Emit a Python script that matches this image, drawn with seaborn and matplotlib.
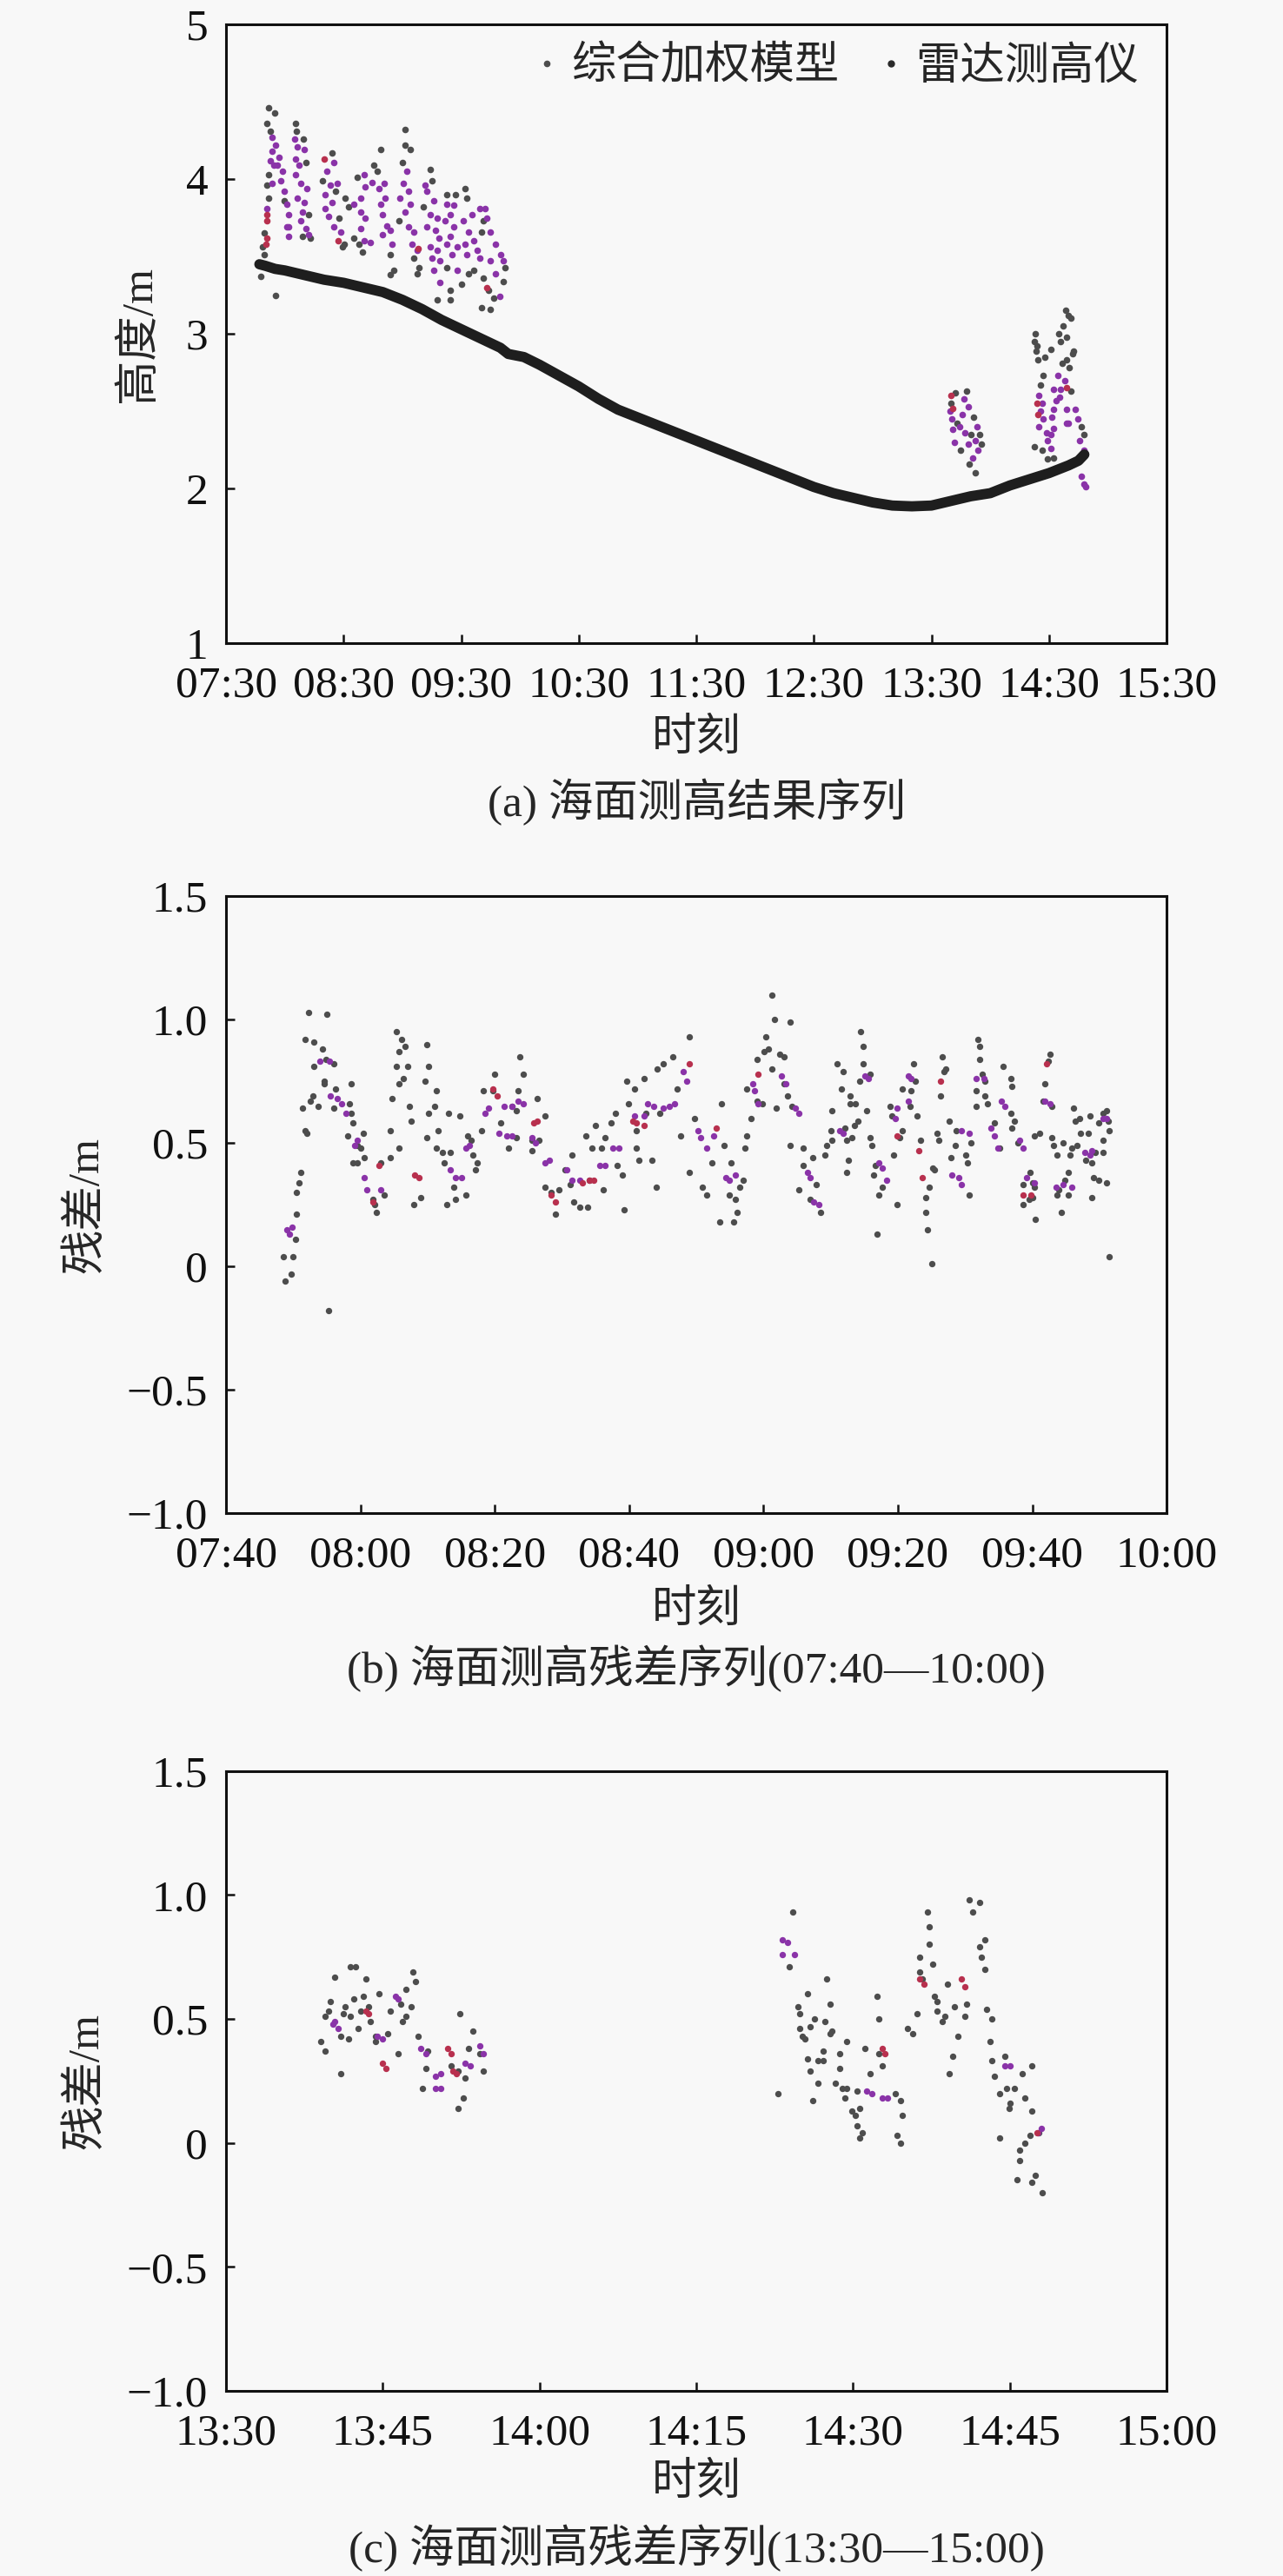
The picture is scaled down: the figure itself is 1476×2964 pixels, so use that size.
import matplotlib
matplotlib.use('Agg')
import matplotlib.pyplot as plt
from matplotlib.lines import Line2D
import pandas as pd
import seaborn as sns

# times are minutes after midnight, values in metres

# (a) radar altimeter tide curve
radar = [(467, 3.45), (470, 3.44), (475, 3.42), (480, 3.41), (490, 3.38), (500, 3.35), (510, 3.33),
         (520, 3.30), (530, 3.27), (540, 3.22), (550, 3.16), (560, 3.09), (570, 3.03), (580, 2.97),
         (590, 2.91), (594, 2.87), (598, 2.86), (602, 2.85), (610, 2.80), (620, 2.73), (630, 2.66),
         (640, 2.58), (650, 2.51), (660, 2.46), (670, 2.41), (680, 2.36), (690, 2.31), (700, 2.26),
         (710, 2.21), (720, 2.16), (730, 2.11), (740, 2.06), (750, 2.01), (760, 1.97), (770, 1.94),
         (780, 1.91), (790, 1.89), (800, 1.885), (810, 1.89), (820, 1.92), (830, 1.95), (840, 1.97),
         (850, 2.02), (860, 2.06), (870, 2.10), (880, 2.15), (885, 2.18), (888, 2.22)]

# (a) weighted model heights
a_gray = [(471.9, 4.46), (474.8, 4.43), (471.0, 4.36), (472.7, 4.31), (471.9, 4.03), (471.0, 3.96),
          (471.9, 3.88), (469.3, 3.65), (468.5, 3.56), (469.3, 3.51), (468.5, 3.45), (467.6, 3.37),
          (475.3, 3.25), (479.5, 3.86), (485.5, 4.36), (486.0, 4.31), (489.4, 4.26), (490.6, 4.11),
          (492.2, 3.77), (493.1, 3.62), (488.9, 3.63), (504.1, 4.17), (499.0, 3.99), (505.8, 3.92),
          (507.5, 3.75), (510.1, 3.58), (509.2, 3.56), (512.6, 3.82), (510.9, 3.88), (516.9, 4.01),
          (525.4, 4.09), (528.8, 4.19), (527.1, 4.05), (515.2, 3.62), (517.7, 3.58), (519.4, 3.53),
          (533.9, 3.51), (535.5, 3.41), (533.9, 3.38), (541.5, 4.32), (541.5, 4.22), (544.0, 4.19),
          (539.8, 4.11), (538.1, 3.73), (545.7, 3.49), (548.3, 3.43), (547.4, 3.39), (554.2, 4.06),
          (555.1, 3.99), (550.8, 3.82), (557.6, 3.22), (564.4, 3.22), (562.7, 3.90), (567.0, 3.90),
          (562.7, 3.43), (570.4, 3.32), (564.4, 3.28), (572.0, 3.94), (572.9, 3.88), (581.4, 3.73),
          (576.3, 3.41), (573.7, 3.39), (581.4, 3.36), (584.0, 3.28), (586.5, 3.23), (580.5, 3.17),
          (584.8, 3.16), (591.6, 3.34), (592.4, 3.43), (580.5, 3.66),
          (820.0, 2.55), (822.0, 2.62), (823.0, 2.42), (827.9, 2.63), (831.6, 2.46), (834.5, 2.35),
          (835.3, 2.29), (829.4, 2.16), (832.3, 2.10), (824.9, 2.25), (830.1, 2.35),
          (863.4, 2.89), (864.1, 2.83), (862.5, 2.95), (863.0, 3.00), (864.0, 2.92), (867.1, 2.73),
          (865.6, 2.67), (862.6, 2.27), (866.3, 2.25), (869.3, 2.19), (872.3, 2.20), (878.5, 3.15),
          (880.0, 3.12), (877.0, 3.05), (875.0, 3.00), (881.0, 3.10), (879.0, 2.98), (876.0, 2.95),
          (871.0, 2.90), (868.0, 2.85), (881.9, 2.87), (882.6, 2.89), (878.9, 2.83), (876.7, 2.81),
          (880.4, 2.78), (881.1, 2.63), (886.3, 2.40), (887.8, 2.35)]
a_purple = [(473.6, 4.18), (472.7, 4.12), (474.4, 4.09), (473.6, 3.97), (470.7, 3.81), (473.6, 4.27),
            (475.3, 4.22), (477.0, 4.14), (476.1, 4.09), (478.7, 4.05), (477.8, 3.99), (479.5, 3.92),
            (481.2, 3.84), (482.1, 3.77), (481.2, 3.69), (482.1, 3.63), (485.0, 4.26), (486.3, 4.21),
            (489.7, 4.19), (485.5, 4.13), (487.2, 4.09), (485.5, 4.03), (488.0, 3.97), (491.4, 3.94),
            (486.3, 3.88), (489.7, 3.85), (488.9, 3.79), (488.0, 3.73), (490.6, 3.68), (492.2, 3.64),
            (482.1, 3.69), (505.0, 4.11), (501.6, 4.05), (503.3, 3.96), (500.7, 3.90), (504.1, 3.85),
            (500.7, 3.81), (502.4, 3.76), (505.0, 3.69), (508.4, 3.66), (506.7, 3.97), (520.3, 4.03),
            (524.5, 3.98), (521.1, 3.95), (518.6, 3.88), (515.2, 3.84), (518.6, 3.79), (521.1, 3.75),
            (518.6, 3.68), (520.3, 3.60), (523.7, 3.59), (527.9, 3.94), (530.5, 3.97), (531.3, 3.88),
            (528.8, 3.84), (529.6, 3.77), (532.2, 3.70), (533.9, 3.67), (529.6, 3.64), (534.7, 3.58),
            (542.3, 4.05), (540.6, 3.97), (543.2, 3.92), (538.9, 3.88), (544.0, 3.84), (541.5, 3.79),
            (543.2, 3.69), (545.7, 3.66), (544.9, 3.58), (547.4, 3.54), (551.7, 3.96), (552.5, 3.92),
            (556.0, 3.86), (554.2, 3.77), (557.6, 3.75), (552.5, 3.69), (556.8, 3.67), (558.5, 3.62),
            (554.2, 3.56), (557.6, 3.54), (555.1, 3.49), (559.3, 3.47), (556.0, 3.41), (559.3, 3.33),
            (562.7, 3.84), (566.1, 3.83), (564.4, 3.77), (561.9, 3.73), (566.1, 3.69), (564.4, 3.63),
            (562.7, 3.58), (567.8, 3.56), (565.3, 3.51), (567.8, 3.41), (571.2, 3.73), (575.4, 3.77),
            (573.7, 3.66), (576.3, 3.60), (572.0, 3.58), (578.0, 3.54), (572.9, 3.51), (579.7, 3.49),
            (579.7, 3.81), (582.2, 3.81), (583.1, 3.75), (584.8, 3.66), (587.3, 3.58), (590.1, 3.51),
            (591.6, 3.47), (584.8, 3.47), (587.3, 3.39), (589.9, 3.24),
            (820.5, 2.45), (821.0, 2.38), (821.5, 2.30), (819.5, 2.50), (828.6, 2.53), (825.7, 2.48),
            (824.2, 2.40), (827.1, 2.36), (833.1, 2.40), (832.3, 2.31), (833.8, 2.25), (830.8, 2.20),
            (828.6, 2.29), (826.4, 2.58),
            (864.9, 2.60), (866.3, 2.55), (865.6, 2.50), (867.1, 2.45), (864.9, 2.40), (869.3, 2.31),
            (870.8, 2.35), (872.3, 2.39), (871.5, 2.46), (868.6, 2.36), (870.8, 2.26), (872.3, 2.51),
            (873.7, 2.57), (875.2, 2.59), (876.0, 2.64), (872.3, 2.64), (874.5, 2.73), (878.2, 2.70),
            (878.9, 2.51), (879.7, 2.42), (883.4, 2.51), (884.8, 2.45), (885.6, 2.31), (887.8, 2.25),
            (886.3, 2.08), (887.8, 2.03), (888.5, 2.01), (878.9, 2.42)]
a_red = [(471.0, 3.77), (470.7, 3.73), (470.7, 3.62), (470.2, 3.58), (499.9, 4.13), (507.0, 3.60),
         (548.0, 3.55), (583.0, 3.30), (820.0, 2.60), (821.0, 2.52), (864.0, 2.55), (864.5, 2.48),
         (879.0, 2.65)]

# (b) residuals 07:40-10:00
b_gray = [(468.8, -0.06), (468.5, 0.04), (470.0, 0.04), (469.7, -0.03), (470.3, 0.11), (470.5, 0.21),
          (470.5, 0.30), (470.8, 0.34), (471.1, 0.38), (471.7, 0.55), (472.0, 0.54), (471.4, 0.64),
          (471.7, 0.92), (472.3, 1.03), (473.1, 0.91), (472.9, 0.69), (472.6, 0.67), (473.7, 0.65),
          (475.0, 1.02), (475.2, -0.18), (473.1, 0.81), (474.3, 0.88), (474.9, 0.84), (476.0, 0.82),
          (474.6, 0.75), (474.6, 0.74), (476.3, 0.72), (476.0, 0.64), (478.6, 0.74), (478.3, 0.66),
          (478.6, 0.62), (478.1, 0.53), (478.9, 0.58), (479.5, 0.49), (480.4, 0.54), (480.1, 0.48),
          (478.9, 0.42), (479.5, 0.42), (480.6, 0.44), (481.8, 0.27), (482.1, 0.25), (482.4, 0.22),
          (483.5, 0.29), (483.0, 0.42), (484.4, 0.44), (484.4, 0.55), (485.8, 0.48), (484.7, 0.68),
          (485.3, 0.81), (485.3, 0.95), (486.1, 0.92), (486.7, 0.89), (485.8, 0.87), (487.0, 0.81),
          (486.4, 0.76), (485.8, 0.74), (487.3, 0.65), (487.6, 0.59), (487.9, 0.25), (489.0, 0.28),
          (489.9, 0.90), (490.2, 0.81), (489.6, 0.75), (490.2, 0.62), (489.9, 0.52), (491.0, 0.65),
          (491.3, 0.71), (491.6, 0.55), (492.2, 0.46), (491.3, 0.48), (492.5, 0.42), (493.1, 0.62),
          (493.4, 0.46), (493.9, 0.32), (492.8, 0.25), (494.2, 0.27), (494.8, 0.61), (495.7, 0.29),
          (496.0, 0.53), (496.5, 0.51), (496.8, 0.45), (497.1, 0.39), (497.4, 0.42), (498.0, 0.55),
          (498.3, 0.71), (499.7, 0.71), (500.0, 0.78), (500.9, 0.58), (502.0, 0.48), (503.2, 0.52),
          (502.6, 0.65), (503.2, 0.63), (503.7, 0.85), (504.3, 0.78), (503.5, 0.71), (506.3, 0.68),
          (505.5, 0.51), (506.6, 0.51), (507.5, 0.61), (505.5, 0.47), (507.5, 0.32), (509.0, 0.21),
          (508.4, 0.30), (509.5, 0.31), (510.4, 0.39), (511.2, 0.33), (511.5, 0.45), (511.8, 0.26),
          (512.7, 0.24), (513.8, 0.24), (513.6, 0.53), (514.1, 0.35), (515.0, 0.57), (514.4, 0.48),
          (515.9, 0.48), (516.4, 0.52), (516.2, 0.31), (517.3, 0.58), (517.9, 0.62), (518.2, 0.41),
          (519.0, 0.37), (519.3, 0.23), (519.6, 0.75), (519.9, 0.66), (520.8, 0.72), (521.1, 0.55),
          (521.1, 0.48), (521.4, 0.43), (522.2, 0.76), (522.5, 0.62), (523.4, 0.43), (524.0, 0.32),
          (524.2, 0.80), (525.1, 0.82), (524.5, 0.62), (526.5, 0.85), (527.1, 0.72), (527.7, 0.53),
          (528.9, 0.93), (528.9, 0.38), (529.7, 0.60), (530.9, 0.32), (531.5, 0.29), (532.3, 0.42),
          (533.5, 0.18), (533.8, 0.66), (534.1, 0.49), (534.9, 0.29), (535.2, 0.42), (535.5, 0.18),
          (535.8, 0.27), (536.4, 0.32), (536.1, 0.22), (537.0, 0.35), (537.2, 0.48), (537.5, 0.53),
          (537.5, 0.72), (538.1, 0.60), (539.0, 0.84), (539.0, 0.67), (539.8, 0.66), (540.4, 0.93),
          (540.1, 0.87), (540.7, 0.88), (541.3, 1.10), (541.6, 1.00), (541.3, 0.80), (541.9, 0.64),
          (542.4, 0.86), (543.0, 0.85), (543.0, 0.74), (543.9, 0.99), (543.6, 0.69), (544.2, 0.65),
          (543.9, 0.49), (545.9, 0.48), (545.9, 0.41), (547.3, 0.44), (547.0, 0.27), (547.9, 0.33),
          (548.5, 0.22), (545.3, 0.31),
          (550.2, 0.63), (550.0, 0.55), (549.4, 0.49), (551.0, 0.82), (551.8, 0.79), (551.6, 0.72),
          (552.9, 0.69), (552.9, 0.66), (553.7, 0.66), (552.1, 0.56), (553.5, 0.57), (553.2, 0.52),
          (552.4, 0.51), (550.2, 0.51), (549.2, 0.45), (552.6, 0.43), (552.4, 0.38), (554.0, 0.59),
          (554.5, 0.95), (554.8, 0.89), (554.8, 0.82), (554.3, 0.75), (555.9, 0.78), (555.3, 0.63),
          (555.9, 0.52), (556.1, 0.49), (556.7, 0.41), (556.4, 0.37), (557.7, 0.32), (557.2, 0.29),
          (556.9, 0.13), (558.8, 0.65), (559.1, 0.61), (559.3, 0.45), (559.9, 0.25), (560.2, 0.52),
          (560.7, 0.72), (560.7, 0.55), (561.8, 0.65), (562.0, 0.71), (562.3, 0.82), (562.6, 0.75),
          (562.8, 0.61), (563.4, 0.51), (564.2, 0.28), (564.2, 0.22), (564.4, 0.15), (565.0, 0.01),
          (564.7, 0.32), (565.2, 0.40), (565.5, 0.39), (565.8, 0.54), (566.3, 0.69), (566.9, 0.79),
          (567.1, 0.80), (566.6, 0.85), (566.1, 0.51), (567.7, 0.59), (567.9, 0.44), (568.5, 0.49),
          (568.7, 0.55), (570.1, 0.45), (570.3, 0.42), (570.6, 0.29), (570.9, 0.50), (571.7, 0.65),
          (572.5, 0.78), (573.0, 0.75), (573.0, 0.69), (571.9, 0.92), (572.2, 0.89), (572.2, 0.84),
          (571.7, 0.71), (573.3, 0.66), (574.4, 0.58), (575.2, 0.48), (575.7, 0.81), (576.8, 0.76),
          (577.0, 0.73), (576.8, 0.62), (577.3, 0.59), (577.0, 0.56), (577.8, 0.50), (579.7, 0.38),
          (580.0, 0.34), (578.7, 0.33), (580.0, 0.28), (580.3, 0.32), (579.5, 0.27), (578.7, 0.25),
          (580.5, 0.19), (580.3, 0.53), (581.1, 0.54), (581.6, 0.67), (582.9, 0.65), (581.9, 0.74),
          (582.4, 0.83), (582.7, 0.86), (582.9, 0.52), (583.2, 0.49), (583.7, 0.45), (584.0, 0.31),
          (583.7, 0.29), (584.3, 0.22), (584.8, 0.35), (585.4, 0.38), (585.4, 0.29), (585.6, 0.45),
          (584.6, 0.50), (585.9, 0.48), (586.2, 0.64), (586.4, 0.59), (587.0, 0.60), (587.2, 0.54),
          (586.7, 0.49), (588.3, 0.54), (588.0, 0.43), (588.6, 0.61), (588.8, 0.42), (589.4, 0.46),
          (589.1, 0.36), (589.9, 0.35), (588.8, 0.28), (590.5, 0.46), (590.5, 0.51), (589.9, 0.58),
          (590.5, 0.62), (591.0, 0.63), (591.3, 0.59), (591.5, 0.55), (591.0, 0.34), (591.5, 0.04)]
b_purple = [(469.1, 0.15), (469.4, 0.13), (469.8, 0.16), (474.0, 0.83), (475.4, 0.83), (475.5, 0.69),
            (476.6, 0.68), (477.2, 0.66), (477.8, 0.62), (479.2, 0.49), (479.5, 0.51), (480.6, 0.36),
            (480.9, 0.31), (483.0, 0.31), (493.4, 0.39), (494.2, 0.36), (495.1, 0.36), (495.7, 0.48),
            (496.2, 0.49), (498.5, 0.62), (499.1, 0.64), (501.4, 0.65), (502.6, 0.65), (503.5, 0.67),
            (504.3, 0.66), (500.6, 0.54), (501.8, 0.53), (502.6, 0.53), (505.5, 0.52), (506.0, 0.50),
            (507.5, 0.42), (508.1, 0.43), (510.7, 0.39), (511.5, 0.35), (512.7, 0.35), (515.6, 0.41),
            (516.4, 0.41), (517.6, 0.48), (518.5, 0.48), (520.8, 0.61), (522.2, 0.61), (522.8, 0.66),
            (523.6, 0.65), (525.1, 0.64), (526.0, 0.65), (526.8, 0.66), (528.0, 0.79), (528.6, 0.75),
            (530.3, 0.55), (530.6, 0.52), (531.5, 0.48), (532.6, 0.53), (534.4, 0.36), (534.9, 0.35),
            (535.8, 0.37), (538.4, 0.74), (538.7, 0.71), (539.2, 0.66), (542.7, 0.77), (543.3, 0.74),
            (544.7, 0.64), (545.3, 0.62), (546.5, 0.38), (547.0, 0.36), (547.5, 0.26), (548.2, 0.25),
            (551.3, 0.55), (551.9, 0.54), (555.1, 0.77), (555.6, 0.76), (557.2, 0.42), (557.7, 0.40),
            (558.3, 0.35), (559.6, 0.60), (559.9, 0.64), (561.5, 0.77), (562.0, 0.76), (561.6, 0.67),
            (568.0, 0.37), (569.0, 0.36), (569.5, 0.33), (569.5, 0.55), (570.6, 0.54), (571.7, 0.76),
            (572.8, 0.76), (573.8, 0.56), (574.4, 0.53), (574.9, 0.48), (575.4, 0.67), (575.9, 0.65),
            (578.1, 0.51), (578.7, 0.48), (579.2, 0.36), (580.3, 0.34), (581.9, 0.67), (582.7, 0.66),
            (583.5, 0.32), (584.6, 0.33), (585.9, 0.32), (587.8, 0.46), (588.6, 0.45), (588.8, 0.47),
            (590.5, 0.60), (591.0, 0.60)]
b_red = [(482.7, 0.41), (481.8, 0.26), (488.1, 0.37), (488.7, 0.36), (500.3, 0.69), (499.7, 0.72),
         (505.8, 0.58), (506.3, 0.59), (508.4, 0.29), (509.0, 0.26), (513.0, 0.34), (514.1, 0.35),
         (514.7, 0.35), (520.5, 0.59), (521.1, 0.58), (522.2, 0.57), (528.9, 0.82), (532.9, 0.56),
         (539.2, 0.78), (559.9, 0.53), (563.1, 0.47), (563.6, 0.36), (566.3, 0.75), (578.7, 0.29),
         (579.8, 0.29), (582.1, 0.82)]

# (c) residuals 13:30-15:00
c_gray = [(821.9, 0.71), (822.4, 0.71), (820.4, 0.67), (823.4, 0.66), (827.9, 0.69), (828.1, 0.65),
          (820.0, 0.57), (822.2, 0.58), (823.1, 0.59), (824.6, 0.60), (827.2, 0.62), (821.4, 0.55),
          (821.9, 0.51), (819.8, 0.53), (819.5, 0.51), (821.2, 0.52), (822.9, 0.53), (823.6, 0.55),
          (826.7, 0.56), (827.7, 0.55), (823.8, 0.49), (822.6, 0.46), (821.0, 0.43), (821.7, 0.42),
          (819.1, 0.41), (819.5, 0.37), (825.7, 0.53), (827.2, 0.51), (826.9, 0.49), (824.3, 0.43),
          (825.5, 0.44), (824.3, 0.41), (826.5, 0.36), (828.4, 0.43), (829.3, 0.37), (821.0, 0.28),
          (829.1, 0.30), (828.8, 0.22), (831.5, 0.31), (832.2, 0.29), (832.4, 0.52), (833.6, 0.45),
          (833.2, 0.38), (834.3, 0.36), (832.9, 0.26), (834.6, 0.29), (832.7, 0.18), (832.2, 0.14),
          (864.2, 0.93), (863.9, 0.71), (867.5, 0.66), (865.6, 0.60), (867.8, 0.56), (864.7, 0.55),
          (864.9, 0.52), (866.3, 0.50), (867.3, 0.49), (864.9, 0.46), (865.9, 0.47), (868.0, 0.45),
          (867.8, 0.44), (865.1, 0.43), (865.4, 0.42), (869.4, 0.41), (867.1, 0.37), (868.7, 0.36),
          (871.1, 0.38), (865.6, 0.34), (866.6, 0.33), (867.1, 0.33), (868.7, 0.30), (865.9, 0.29),
          (871.6, 0.28), (866.6, 0.24), (868.3, 0.24), (869.0, 0.22), (869.4, 0.22), (862.8, 0.20),
          (866.1, 0.17), (870.4, 0.21), (869.2, 0.18), (869.9, 0.13), (870.6, 0.14), (870.2, 0.11),
          (870.4, 0.07), (870.9, 0.04), (870.6, 0.02), (872.3, 0.59), (872.5, 0.50), (872.5, 0.36),
          (872.8, 0.31), (874.0, 0.20), (874.5, 0.17), (874.7, 0.11), (874.2, 0.03), (874.5, 0.00),
          (875.2, 0.46), (875.7, 0.44), (876.1, 0.52), (876.6, 0.66), (876.4, 0.69), (877.1, 0.93),
          (877.3, 0.87), (877.3, 0.80), (876.4, 0.75), (877.6, 0.72), (877.8, 0.59), (878.0, 0.57),
          (878.0, 0.53), (878.8, 0.51), (878.5, 0.49), (879.0, 0.64), (879.7, 0.55), (880.0, 0.43),
          (879.5, 0.35), (879.2, 0.28), (880.9, 0.56), (880.7, 0.51), (881.1, 0.98), (882.1, 0.97),
          (881.4, 0.93), (882.1, 0.79), (882.6, 0.82), (882.3, 0.75), (882.6, 0.70), (882.8, 0.54),
          (883.3, 0.50), (883.1, 0.41), (883.3, 0.33), (884.5, 0.35), (883.5, 0.27), (884.0, 0.20),
          (884.7, 0.22), (885.4, 0.22), (884.9, 0.14), (886.4, 0.18), (887.1, 0.13), (884.0, 0.02),
          (885.9, -0.03), (886.4, 0.00), (885.9, -0.07), (885.7, -0.15), (887.4, -0.13), (887.1, -0.16),
          (888.1, -0.20), (886.9, 0.03), (887.8, 0.04), (886.2, 0.28), (887.1, 0.31), (885.0, 0.16)]
c_purple = [(820.4, 0.49), (820.7, 0.46), (820.2, 0.48), (826.2, 0.59), (826.5, 0.58), (824.5, 0.43),
            (825.0, 0.42), (828.6, 0.38), (829.1, 0.36), (830.0, 0.27), (830.5, 0.28), (830.0, 0.22),
            (830.5, 0.22), (832.9, 0.32), (833.4, 0.31), (834.3, 0.39), (834.6, 0.36), (863.2, 0.82),
            (863.7, 0.81), (863.2, 0.76), (864.4, 0.76), (871.3, 0.21), (871.8, 0.20), (872.8, 0.18),
            (873.3, 0.18), (884.5, 0.31), (885.0, 0.31), (887.7, 0.04), (888.0, 0.06)]
c_red = [(823.4, 0.53), (823.6, 0.52), (825.0, 0.32), (825.3, 0.30), (831.2, 0.38), (831.5, 0.36),
         (831.7, 0.29), (832.0, 0.28), (872.8, 0.38), (873.0, 0.36), (876.4, 0.66), (876.8, 0.64),
         (880.4, 0.66), (880.7, 0.63), (887.6, 0.04)]

# axes ticks / labels
xt_a = [450, 510, 570, 630, 690, 750, 810, 870, 930]
xl_a = ["07:30", "08:30", "09:30", "10:30", "11:30", "12:30", "13:30", "14:30", "15:30"]
xt_b = [460, 480, 500, 520, 540, 560, 580, 600]
xl_b = ["07:40", "08:00", "08:20", "08:40", "09:00", "09:20", "09:40", "10:00"]
xt_c = [810, 825, 840, 855, 870, 885, 900]
xl_c = ["13:30", "13:45", "14:00", "14:15", "14:30", "14:45", "15:00"]
yt_a = [1, 2, 3, 4, 5]
yl_a = ["1", "2", "3", "4", "5"]
yt_r = [-1.0, -0.5, 0, 0.5, 1.0, 1.5]
yl_r = ["\u22121.0", "\u22120.5", "0", "0.5", "1.0", "1.5"]
legend_labels = ["综合加权模型", "雷达测高仪"]
captions = ["(a) 海面测高结果序列", "(b) 海面测高残差序列(07:40—10:00)", "(c) 海面测高残差序列(13:30—15:00)"]

sns.set_style("ticks")
plt.rcParams['font.family'] = ['Liberation Serif', 'Noto Sans CJK SC']
plt.rcParams['axes.unicode_minus'] = True

BG = '#f8f8f8'
GRAY = '#4d4d4d'
PURPLE = '#8a33a8'
RED = '#b8304e'
FS = 37


def dots(ax, pairs, color, s):
    df = pd.DataFrame(pairs, columns=['t', 'v'])
    sns.scatterplot(data=df, x='t', y='v', color=color, s=s, linewidth=0, ax=ax, legend=False)


def style(ax, xt, xl, yt, yl, xlim, ylim, ylabel, ylab_x):
    ax.set_facecolor(BG)
    ax.set_xlim(*xlim)
    ax.set_ylim(*ylim)
    ax.set_xticks(xt)
    ax.set_xticklabels(xl)
    ax.set_yticks(yt)
    ax.set_yticklabels(yl)
    ax.set_xlabel('')
    ax.set_ylabel(ylabel, fontsize=FS)
    ax.yaxis.label.set_va('center')
    ax.yaxis.set_label_coords(ylab_x, 0.5)
    for sp in ax.spines.values():
        sp.set_visible(True)
        sp.set_linewidth(2.2)
        sp.set_color('#111111')
    ax.tick_params(direction='in', length=7, width=1.8, labelsize=FS, colors='#111111',
                   top=False, right=False)
    ax.tick_params(axis='x', pad=19)
    ax.tick_params(axis='y', pad=15)


fig = plt.figure(figsize=(14.76, 29.64), dpi=100, facecolor=BG)

# panel a
ax1 = fig.add_axes([0.1762, 0.7503, 0.7331, 0.2402])
dots(ax1, a_gray, GRAY, 30)
dots(ax1, a_purple, PURPLE, 30)
dots(ax1, a_red, RED, 30)
rdf = pd.DataFrame(radar, columns=['t', 'h'])
sns.lineplot(data=rdf, x='t', y='h', color='#1e1e1e', linewidth=8.5, estimator=None, ax=ax1)
style(ax1, xt_a, xl_a, yt_a, yl_a, (450, 930), (1, 5), '高度/m', -0.0924)
handles = [Line2D([], [], marker='o', ls='', color=GRAY, markersize=4.5),
           Line2D([], [], marker='o', ls='', color='#2a2a2a', markersize=5)]
ax1.legend(handles, legend_labels, loc='upper right', bbox_to_anchor=(0.97, 0.965), ncol=2,
           frameon=False, fontsize=FS, handlelength=0.5, handletextpad=0.3, columnspacing=0.9,
           borderpad=0, borderaxespad=0)

# panel b
ax2 = fig.add_axes([0.1762, 0.4126, 0.7331, 0.2395])
dots(ax2, b_gray, GRAY, 28)
dots(ax2, b_purple, PURPLE, 28)
dots(ax2, b_red, RED, 28)
style(ax2, xt_b, xl_b, yt_r, yl_r, (460, 600), (-1.0, 1.5), '残差/m', -0.148)

# panel c
ax3 = fig.add_axes([0.1762, 0.0719, 0.7331, 0.2406])
dots(ax3, c_gray, GRAY, 28)
dots(ax3, c_purple, PURPLE, 28)
dots(ax3, c_red, RED, 28)
style(ax3, xt_c, xl_c, yt_r, yl_r, (810, 900), (-1.0, 1.5), '残差/m', -0.148)

cx = 0.5427
for y_lab, y_cap, cap in [(0.7132, 0.6886, captions[0]), (0.3748, 0.3522, captions[1]),
                          (0.0361, 0.0108, captions[2])]:
    fig.text(cx, y_lab, '时刻', ha='center', va='center', fontsize=FS)
    fig.text(cx, y_cap, cap, ha='center', va='center', fontsize=FS)

fig.savefig('out.png', dpi=100, facecolor=BG)
